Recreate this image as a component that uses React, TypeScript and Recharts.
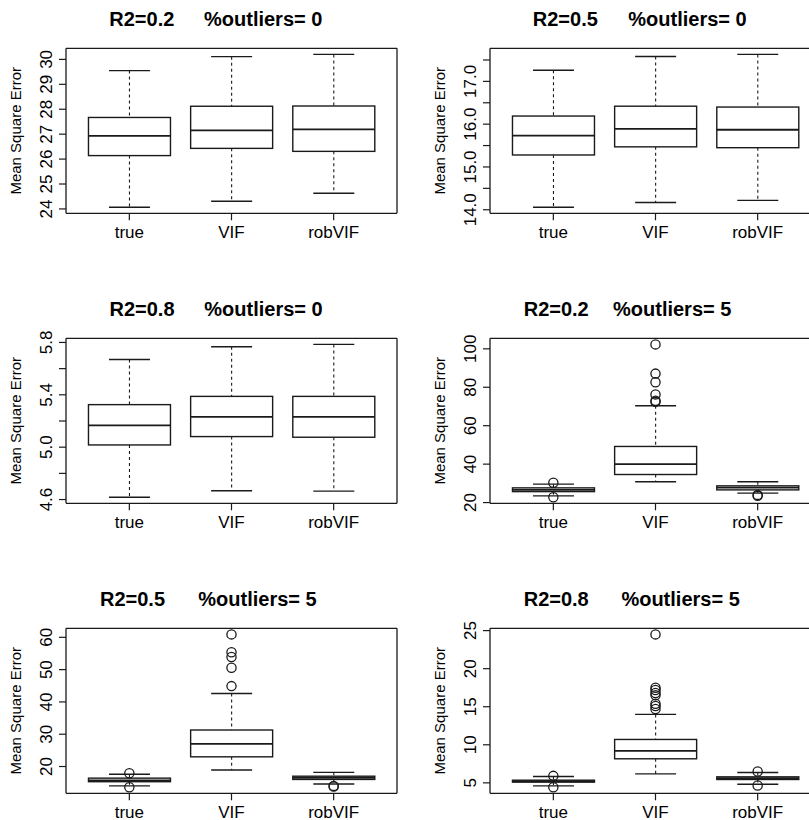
import React from 'react';
import { ComposedChart, Bar, Line, XAxis, YAxis, Label } from 'recharts';

const CATEGORIES = ['true', 'VIF', 'robVIF'];

// [lower whisker, Q1, median, Q3, upper whisker] for true / VIF / robVIF
const STATS_R02_O0 = [[24.07, 26.14, 26.93, 27.67, 29.55], [24.31, 26.43, 27.15, 28.12, 30.11], [24.63, 26.31, 27.19, 28.13, 30.2]];
const STATS_R05_O0 = [[14.06, 15.28, 15.73, 16.19, 17.26], [14.17, 15.47, 15.89, 16.42, 17.58], [14.22, 15.45, 15.87, 16.4, 17.63]];
const STATS_R08_O0 = [[4.618, 5.017, 5.167, 5.325, 5.67], [4.667, 5.081, 5.231, 5.388, 5.767], [4.664, 5.076, 5.231, 5.388, 5.785]];
const STATS_R02_O5 = [[23.5, 25.7, 26.6, 27.65, 29.6], [30.8, 34.6, 40.0, 49.2, 70.4], [24.9, 26.6, 27.8, 28.7, 30.8]];
const STATS_R05_O5 = [[14.0, 15.3, 15.7, 16.4, 17.6], [18.9, 23.0, 27.0, 31.3, 42.6], [14.6, 16.0, 16.5, 17.0, 18.2]];
const STATS_R08_O5 = [[4.6, 5.09, 5.22, 5.35, 5.83], [6.18, 8.16, 9.21, 10.7, 13.99], [4.82, 5.44, 5.61, 5.79, 6.36]];

const OUT_R02_O0 = [[], [], []];
const OUT_R05_O0 = [[], [], []];
const OUT_R08_O0 = [[], [], []];
const OUT_R02_O5 = [[30.3, 22.8], [102.3, 87.1, 82.6, 76.3, 73.0, 72.4], [24.0, 23.5]];
const OUT_R05_O5 = [[17.9, 13.6], [60.9, 55.4, 53.9, 50.6, 44.9], [14.0, 13.8]];
const OUT_R08_O5 = [[5.92, 4.43], [24.5, 17.5, 17.2, 16.8, 16.5, 15.4, 15.1, 14.7], [6.49, 4.65]];

const TICKS_R02_O0 = [24, 25, 26, 27, 28, 29, 30];
const LABELS_R02_O0 = ['24', '25', '26', '27', '28', '29', '30'];
const TICKS_R05_O0 = [14, 14.5, 15, 15.5, 16, 16.5, 17, 17.5];
const LABELS_R05_O0 = ['14.0', '', '15.0', '', '16.0', '', '17.0', ''];
const TICKS_R08_O0 = [4.6, 4.8, 5.0, 5.2, 5.4, 5.6, 5.8];
const LABELS_R08_O0 = ['4.6', '', '5.0', '', '5.4', '', '5.8'];
const TICKS_R02_O5 = [20, 40, 60, 80, 100];
const LABELS_R02_O5 = ['20', '40', '60', '80', '100'];
const TICKS_R05_O5 = [20, 30, 40, 50, 60];
const LABELS_R05_O5 = ['20', '30', '40', '50', '60'];
const TICKS_R08_O5 = [5, 10, 15, 20, 25];
const LABELS_R08_O5 = ['5', '10', '15', '20', '25'];

const R2_TITLES = ['R2=0.2', 'R2=0.5', 'R2=0.8', 'R2=0.2', 'R2=0.5', 'R2=0.8'];
const OUTLIER_TITLES = ['%outliers= 0', '%outliers= 0', '%outliers= 0', '%outliers= 5', '%outliers= 5', '%outliers= 5'];

const FONT = '"Liberation Sans", Arial, Helvetica, sans-serif';
const FIG_W = 424;
const FIG_H = 290;
const PLOT_L = 66;
const PLOT_T = 48.3;
const PLOT_W = 331;
const PLOT_H = 165;
const MAX_OUT = 8;
const INK = '#1a1a1a';

const panels = [
  { stats: STATS_R02_O0, out: OUT_R02_O0, ticks: TICKS_R02_O0, labels: LABELS_R02_O0, left: 0, top: 0, t1: 43.3, t2: 138 },
  { stats: STATS_R05_O0, out: OUT_R05_O0, ticks: TICKS_R05_O0, labels: LABELS_R05_O0, left: 423.5, top: 0, t1: 42.8, t2: 138.3 },
  { stats: STATS_R08_O0, out: OUT_R08_O0, ticks: TICKS_R08_O0, labels: LABELS_R08_O0, left: 0, top: 290.4, t1: 43.5, t2: 138.3 },
  { stats: STATS_R02_O5, out: OUT_R02_O5, ticks: TICKS_R02_O5, labels: LABELS_R02_O5, left: 423.5, top: 290.4, t1: 33.7, t2: 123 },
  { stats: STATS_R05_O5, out: OUT_R05_O5, ticks: TICKS_R05_O5, labels: LABELS_R05_O5, left: 0, top: 579.6, t1: 34, t2: 132.3 },
  { stats: STATS_R08_O5, out: OUT_R08_O5, ticks: TICKS_R08_O5, labels: LABELS_R08_O5, left: 423.5, top: 579.6, t1: 33.7, t2: 131.4 },
];

const BoxShape = (props: any) => {
  const { x, y, width, height, payload } = props;
  if (!payload || x == null || y == null) return null;
  const [lo, q1, med, q3, hi] = payload.stats;
  const top = Math.min(y, y + height);
  const h = Math.abs(height);
  const py = (v: number) => top + (h * (hi - v)) / (hi - lo);
  const cx = x + width / 2;
  const sw = width / 4;
  return (
    <g>
      <line x1={cx} x2={cx} y1={py(hi)} y2={py(q3)} stroke={INK} strokeWidth={1.1} strokeDasharray="3 3" />
      <line x1={cx} x2={cx} y1={py(q1)} y2={py(lo)} stroke={INK} strokeWidth={1.1} strokeDasharray="3 3" />
      <line x1={cx - sw} x2={cx + sw} y1={py(hi)} y2={py(hi)} stroke={INK} strokeWidth={1.4} />
      <line x1={cx - sw} x2={cx + sw} y1={py(lo)} y2={py(lo)} stroke={INK} strokeWidth={1.4} />
      <rect x={x} y={py(q3)} width={width} height={py(q1) - py(q3)} fill="#fff" stroke={INK} strokeWidth={1.4} />
      <line x1={x} x2={x + width} y1={py(med)} y2={py(med)} stroke={INK} strokeWidth={1.8} />
    </g>
  );
};

const BoxPanel = ({ panel, index }: { panel: any; index: number }) => {
  const data = CATEGORIES.map((name, i) => {
    const s = panel.stats[i];
    const row: any = { name, stats: s, range: [s[0], s[4]] };
    for (let k = 0; k < MAX_OUT; k++) row['o' + k] = panel.out[i][k] ?? null;
    return row;
  });
  const all = panel.stats.flat().concat(panel.out.flat());
  const mn = Math.min(...all);
  const mx = Math.max(...all);
  const pad = (mx - mn) * 0.04;
  const domain = [mn - pad, mx + pad];
  const xPad = PLOT_W * 0.12 / 3.24;

  const yTick = (p: any) => {
    const i = panel.ticks.indexOf(p.payload.value);
    const txt = i >= 0 ? panel.labels[i] : '';
    if (!txt) return <g />;
    return (
      <text x={p.x} y={p.y} transform={`rotate(-90 ${p.x} ${p.y})`} textAnchor="middle" fontSize={17} fontFamily={FONT} fill="#000">
        {txt}
      </text>
    );
  };
  const xTick = (p: any) => (
    <text x={p.x} y={p.y} dy={12} textAnchor="middle" fontSize={17} fontFamily={FONT} fill="#000">
      {p.payload.value}
    </text>
  );
  const titleContent = (p: any) => {
    const vb = p.viewBox || { x: PLOT_L, y: PLOT_T - 1, height: 1 };
    const base = vb.y + vb.height - 22;
    return (
      <text y={base} fontSize={20} fontWeight="bold" fontFamily={FONT} fill="#000">
        <tspan x={vb.x + panel.t1}>{R2_TITLES[index]}</tspan>
        <tspan x={vb.x + panel.t2}>{OUTLIER_TITLES[index]}</tspan>
      </text>
    );
  };
  const ylabContent = (p: any) => {
    const vb = p.viewBox || { x: 0, y: PLOT_T, height: PLOT_H };
    const lx = vb.x + 21.5;
    const ly = vb.y + vb.height / 2;
    return (
      <text x={lx} y={ly} transform={`rotate(-90 ${lx} ${ly})`} textAnchor="middle" fontSize={15} fontFamily={FONT} fill="#000">
        Mean Square Error
      </text>
    );
  };

  return (
    <div style={{ position: 'absolute', left: panel.left, top: panel.top }}>
      <ComposedChart
        width={FIG_W}
        height={FIG_H}
        data={data}
        barCategoryGap="10%"
        margin={{ top: PLOT_T - 1, left: PLOT_L - 66, right: FIG_W - PLOT_L - PLOT_W - 1, bottom: FIG_H - PLOT_T - PLOT_H - 40 }}
      >
        <XAxis
          dataKey="name"
          xAxisId={0}
          padding={{ left: xPad, right: xPad }}
          height={40}
          interval={0}
          tickSize={7}
          tickMargin={6}
          axisLine={{ stroke: INK, strokeWidth: 1.3 }}
          tickLine={{ stroke: INK, strokeWidth: 1.2 }}
          tick={xTick}
        />
        <XAxis
          dataKey="name"
          xAxisId="top"
          orientation="top"
          height={1}
          padding={{ left: xPad, right: xPad }}
          tick={false}
          tickLine={false}
          axisLine={{ stroke: INK, strokeWidth: 1.3 }}
          label={<Label content={titleContent} />}
        />
        <YAxis
          yAxisId={0}
          type="number"
          domain={domain}
          ticks={panel.ticks}
          interval={0}
          width={66}
          tickSize={7}
          tickMargin={7}
          axisLine={{ stroke: INK, strokeWidth: 1.3 }}
          tickLine={{ stroke: INK, strokeWidth: 1.2 }}
          tick={yTick}
          label={<Label content={ylabContent} />}
        />
        <YAxis
          yAxisId="right"
          orientation="right"
          type="number"
          domain={domain}
          width={1}
          tick={false}
          tickLine={false}
          axisLine={{ stroke: INK, strokeWidth: 1.3 }}
        />
        <Bar dataKey="range" xAxisId={0} yAxisId={0} shape={BoxShape} isAnimationActive={false} />
        {Array.from({ length: MAX_OUT }, (_, k) => (
          <Line
            key={k}
            dataKey={'o' + k}
            xAxisId={0}
            yAxisId={0}
            stroke="none"
            dot={{ r: 4.6, fill: 'none', stroke: INK, strokeWidth: 1.3 }}
            activeDot={false}
            isAnimationActive={false}
          />
        ))}
      </ComposedChart>
    </div>
  );
}

export default function App() {
  return (
    <div style={{ position: 'absolute', left: 0, top: 0, width: 809, height: 820, overflow: 'hidden', background: '#fff' }}>
      {panels.map((p, i) => (
        <BoxPanel key={i} panel={p} index={i} />
      ))}
    </div>
  );
}
